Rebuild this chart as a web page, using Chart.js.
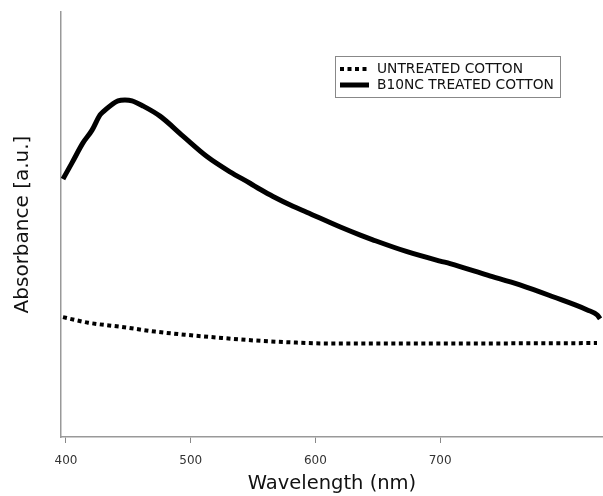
<!DOCTYPE html>
<html>
<head>
<meta charset="utf-8">
<script src="https://cdn.jsdelivr.net/npm/chart.js@4"></script>
<style>
html,body{margin:0;padding:0;background:#fff;}
#wrap{width:603px;height:496px;}
</style>
</head>
<body>
<div id="wrap"><canvas id="c" width="603" height="496"></canvas></div>
<script>
const xTicks = [400, 500, 600, 700];
const treatedX = [397.6, 404.8, 413.6, 420.9, 427.3, 429.7, 435.3, 441.7, 447.3, 452.9, 461.7, 475.4, 493.8, 513.0, 531.5, 547.6, 555.6, 566.0, 582.0, 593.0, 620.0, 636.0, 646.0, 673.5, 700.0, 708.0, 738.0, 764.0, 790.5, 818.0, 826.0, 828.2];
const treatedY = [0.607, 0.645, 0.692, 0.722, 0.758, 0.765, 0.779, 0.791, 0.793, 0.791, 0.779, 0.755, 0.708, 0.660, 0.624, 0.597, 0.583, 0.566, 0.543, 0.529, 0.494, 0.475, 0.464, 0.436, 0.414, 0.408, 0.381, 0.358, 0.330, 0.299, 0.287, 0.278];
const untreatedX = [397.6, 417.6, 444.9, 471.4, 497.8, 525.1, 551.6, 578.0, 610.1, 700.0, 825.8];
const untreatedY = [0.282, 0.269, 0.259, 0.248, 0.240, 0.233, 0.227, 0.223, 0.220, 0.220, 0.221];
const seriesNames = ['UNTREATED COTTON', 'B10NC TREATED COTTON'];

const FONT = 'DejaVu Sans';

const legendPlugin = {
  id: 'boxLegend',
  afterDraw(chart) {
    const ctx = chart.ctx;
    const x0 = 335, y0 = 56, w = 225, h = 41;
    ctx.save();
    ctx.strokeStyle = '#888';
    ctx.lineWidth = 1;
    ctx.strokeRect(x0 + 0.5, y0 + 0.5, w, h);
    const rows = [69, 85];
    chart.data.datasets.forEach((ds, i) => {
      const y = rows[i];
      ctx.beginPath();
      ctx.setLineDash(ds.borderDash || []);
      ctx.lineWidth = ds.borderWidth;
      ctx.strokeStyle = ds.borderColor;
      ctx.lineCap = 'butt';
      ctx.moveTo(340, y);
      ctx.lineTo(369, y);
      ctx.stroke();
      ctx.setLineDash([]);
      ctx.fillStyle = '#111';
      ctx.font = '13.8px "' + FONT + '"';
      ctx.textBaseline = 'middle';
      ctx.textAlign = 'left';
      ctx.fillText(ds.label, 377, y);
    });
    ctx.restore();
  }
};

new Chart(document.getElementById('c'), {
  type: 'line',
  data: {
    datasets: [
      {
        label: seriesNames[0],
        data: untreatedX.map((x, i) => ({x: x, y: untreatedY[i]})),
        borderColor: '#000',
        borderWidth: 4,
        borderDash: [4, 3.5],
        pointRadius: 0,
        fill: false,
        cubicInterpolationMode: 'monotone'
      },
      {
        label: seriesNames[1],
        data: treatedX.map((x, i) => ({x: x, y: treatedY[i]})),
        borderColor: '#000',
        borderWidth: 5,
        pointRadius: 0,
        fill: false,
        cubicInterpolationMode: 'monotone'
      }
    ]
  },
  options: {
    responsive: false,
    animation: false,
    layout: {padding: {top: 12, right: 0, bottom: 0, left: 0}},
    plugins: {legend: {display: false}, tooltip: {enabled: false}},
    scales: {
      x: {
        type: 'linear',
        min: 396,
        max: 830.6,
        afterBuildTicks: (s) => { s.ticks = xTicks.map(v => ({value: v})); },
        afterFit: (s) => { s.height = 59; },
        grid: {drawOnChartArea: false, drawTicks: true, tickLength: 6, color: '#888', lineWidth: 1},
        border: {color: '#999', width: 1.5},
        ticks: {color: '#333', font: {family: FONT, size: 12}, padding: 11, maxRotation: 0},
        title: {display: true, text: 'Wavelength (nm)', color: '#111', font: {family: FONT, size: 19.5}, padding: {top: 0, bottom: 0}}
      },
      y: {
        type: 'linear',
        min: 0,
        max: 1,
        afterFit: (s) => { s.width = 61; },
        grid: {display: false},
        border: {color: '#999', width: 1.5},
        ticks: {display: false},
        title: {display: true, text: 'Absorbance [a.u.]', color: '#111', font: {family: FONT, size: 20}, padding: {top: 11, bottom: 0}}
      }
    }
  },
  plugins: [legendPlugin]
});
</script>
</body>
</html>
